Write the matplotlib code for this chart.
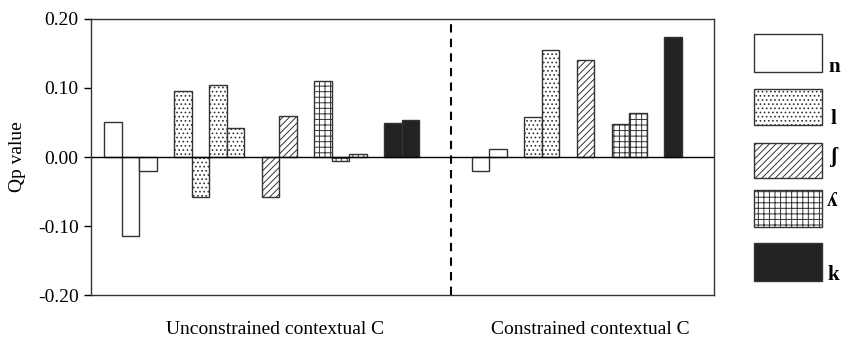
import matplotlib as mpl
import matplotlib.pyplot as plt
import matplotlib.patches as patches

mpl.rcParams.update(
    {
        "font.family": ["Liberation Serif", "DejaVu Serif"],
        "font.size": 14,
        "hatch.linewidth": 0.7,
    }
)

# -----------------------------
# data (Qp values per phoneme class)
# -----------------------------
classes = ["n", "l", "ʃ", "ʎ", "k"]

unconstrained_n = [0.050, -0.115, -0.020]
unconstrained_l = [0.095, -0.058, 0.104, 0.042]
unconstrained_sh = [-0.058, 0.060]
unconstrained_lj = [0.110, -0.006, 0.004]
unconstrained_k = [0.049, 0.053]

constrained_n = [-0.021, 0.011]
constrained_l = [0.058, 0.155]
constrained_sh = [0.140]
constrained_lj = [0.048, 0.064]
constrained_k = [0.174]

yticks = [-0.20, -0.10, 0.00, 0.10, 0.20]
group_labels = ["Unconstrained contextual C", "Constrained contextual C"]

# -----------------------------
# styles per class
# -----------------------------
styles = {
    "n": dict(facecolor="white", hatch=None),
    "l": dict(facecolor="white", hatch="...."),
    "ʃ": dict(facecolor="white", hatch="/////"),
    "ʎ": dict(facecolor="white", hatch="+++"),
    "k": dict(facecolor="#222222", hatch=None),
}
edge = "#333333"

# slot where each run of bars starts (one bar = one slot)
series = [
    ("n", 0, unconstrained_n),
    ("l", 4, unconstrained_l),
    ("ʃ", 9, unconstrained_sh),
    ("ʎ", 12, unconstrained_lj),
    ("k", 16, unconstrained_k),
    ("n", 21, constrained_n),
    ("l", 24, constrained_l),
    ("ʃ", 27, constrained_sh),
    ("ʎ", 29, constrained_lj),
    ("k", 32, constrained_k),
]

# -----------------------------
# figure
# -----------------------------
fig = plt.figure(figsize=(8.43, 3.38), dpi=100)
ax = fig.add_axes([0.108, 0.127, 0.739, 0.817])

for cls, start, vals in series:
    xs = [start + i for i in range(len(vals))]
    ax.bar(
        xs,
        vals,
        width=1.0,
        align="edge",
        edgecolor=edge,
        linewidth=1.0,
        **styles[cls],
    )

ax.axhline(0, color="black", linewidth=1.0)
ax.axvline(19.8, color="black", linewidth=1.5, linestyle=(0, (4, 3)))

ax.set_xlim(-0.76, 34.84)
ax.set_ylim(-0.2, 0.2)
ax.set_yticks(yticks)
ax.set_yticklabels([f"{v:.2f}" for v in yticks])
ax.set_xticks([])
ax.tick_params(axis="y", direction="out", length=5, width=1, pad=4)
for s in ax.spines.values():
    s.set_color("#333333")
    s.set_linewidth(1.0)

ax.set_ylabel("Qp value")
ax.yaxis.set_label_coords(-0.104, 0.5)

# group labels under the axis
ax.text(0.295, -0.123, group_labels[0], transform=ax.transAxes,
        ha="center", va="center")
ax.text(0.801, -0.123, group_labels[1], transform=ax.transAxes,
        ha="center", va="center")

# -----------------------------
# legend (boxes + bold letters)
# -----------------------------
W, H = 843, 338
box_tops = [34, 89, 143, 190, 243]
box_bots = [72, 125, 178, 227, 281]
label_x = [828, 831, 830, 827, 827]
label_y = [72, 124, 157, 201, 280]
label_va = ["baseline", "baseline", "center", "center", "baseline"]
for cls, yt, yb, lx, ly, va in zip(classes, box_tops, box_bots,
                                   label_x, label_y, label_va):
    rect = patches.Rectangle(
        (754 / W, 1 - yb / H),
        68 / W,
        (yb - yt) / H,
        transform=fig.transFigure,
        edgecolor=edge,
        linewidth=1.0,
        **styles[cls],
    )
    fig.add_artist(rect)
    fig.text(lx / W, 1 - ly / H, cls, fontsize=15, fontweight="bold",
             ha="left", va=va)

plt.savefig("out.png", dpi=100)
